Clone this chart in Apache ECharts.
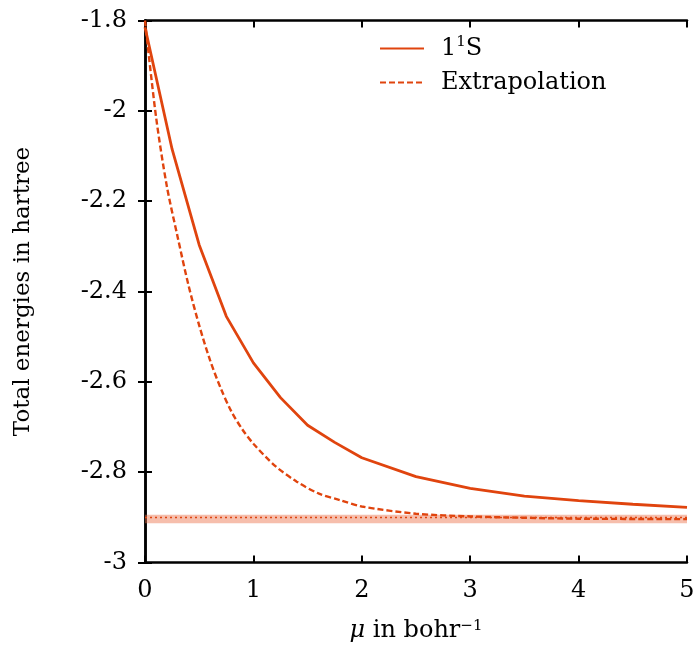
<!DOCTYPE html>
<html>
<head>
<meta charset="utf-8">
<script src="https://cdn.jsdelivr.net/npm/echarts@6/dist/echarts.min.js"></script>
<style>html,body{margin:0;padding:0;background:#fff}#c{width:699px;height:648px}</style>
</head>
<body>
<div id="c"></div>
<script>
const muState = [0, 0.25, 0.5, 0.75, 1, 1.25, 1.5, 1.75, 2, 2.5, 3, 3.5, 4, 4.5, 5];
const energyState = [-1.815, -2.085, -2.297, -2.455, -2.558, -2.635, -2.696, -2.734, -2.768, -2.810, -2.836, -2.853, -2.863, -2.871, -2.878];
const muExtrap = [0, 0.1, 0.2, 0.3, 0.4, 0.5, 0.6, 0.7, 0.8, 0.9, 1.0, 1.2, 1.4, 1.6, 1.8, 2.0, 2.5, 3.0, 3.5, 4.0, 5.0];
const energyExtrap = [-1.80, -2.01, -2.165, -2.278, -2.385, -2.475, -2.552, -2.615, -2.667, -2.706, -2.737, -2.786, -2.821, -2.847, -2.862, -2.876, -2.892, -2.898, -2.901, -2.903, -2.904];
const exactEnergy = -2.9037;
const bandHalf = 0.0095;
const xTicks = [0, 1, 2, 3, 4, 5];
const yTicks = [-3, -2.8, -2.6, -2.4, -2.2, -2, -1.8];

const C = '#e0440e';
const FONT = 'DejaVu Serif';
const chart = echarts.init(document.getElementById('c'));
const axisLine = {show: true, lineStyle: {color: '#000', width: 2.5}};
const tick = {show: true, inside: true, length: 7, lineStyle: {color: '#000', width: 2}};
chart.setOption({
  animation: false,
  grid: {left: 145, right: 12, top: 20.5, bottom: 84.5},
  legend: {
    left: 374, top: 30, orient: 'vertical', itemWidth: 44, itemHeight: 14, itemGap: 10,
    itemStyle: {opacity: 0},
    textStyle: {fontFamily: FONT, fontSize: 24, color: '#000', padding: [0, 0, 0, 12],
      rich: {n: {fontFamily: FONT, fontSize: 24, color: '#000'},
             s: {fontFamily: FONT, fontSize: 15, color: '#000', verticalAlign: 'top', padding: [0, 0, 12, 0]}}},
    formatter: function (name) { return name === '1S' ? '{n|1}{s|1}{n|S}' : '{n|' + name + '}'; },
    data: ['1S', 'Extrapolation']
  },
  xAxis: [{
    type: 'value', min: xTicks[0], max: xTicks[xTicks.length - 1], interval: 1,
    axisLine: axisLine, axisTick: tick, splitLine: {show: false},
    axisLabel: {fontFamily: FONT, fontSize: 24, color: '#000', margin: 16},
    name: '{i|μ} in bohr{s|−1}', nameLocation: 'middle', nameGap: 56,
    nameTextStyle: {fontFamily: FONT, fontSize: 24, color: '#000',
      rich: {i: {fontFamily: FONT, fontSize: 24, fontStyle: 'italic', color: '#000'},
             s: {fontFamily: FONT, fontSize: 15, color: '#000', verticalAlign: 'top', padding: [0, 0, 10, 0]}}}
  }, {
    type: 'value', position: 'top', min: xTicks[0], max: xTicks[xTicks.length - 1], interval: 1,
    axisLine: axisLine, axisTick: tick, axisLabel: {show: false}, splitLine: {show: false}
  }],
  yAxis: [{
    type: 'value', min: yTicks[0], max: yTicks[yTicks.length - 1], interval: 0.2,
    axisLine: axisLine, axisTick: tick, splitLine: {show: false},
    axisLabel: {fontFamily: FONT, fontSize: 24, color: '#000', margin: 18,
      formatter: function (v) { return String(Math.round(v * 10) / 10); }},
    name: 'Total energies in hartree', nameLocation: 'middle', nameGap: 110,
    nameTextStyle: {fontFamily: FONT, fontSize: 23, color: '#000'}
  }, {
    type: 'value', position: 'right', min: yTicks[0], max: yTicks[yTicks.length - 1], interval: 0.2,
    axisLine: axisLine, axisTick: tick, axisLabel: {show: false}, splitLine: {show: false}
  }],
  series: [{
    name: 'band', type: 'line', data: [], silent: true,
    markArea: {silent: true, itemStyle: {color: 'rgba(234,110,70,0.45)'},
      data: [[{yAxis: exactEnergy - bandHalf}, {yAxis: exactEnergy + bandHalf}]]},
    markLine: {silent: true, symbol: 'none', label: {show: false},
      lineStyle: {color: C, type: [2, 3], width: 1.3},
      data: [{yAxis: exactEnergy}]}
  }, {
    name: '1S', type: 'line', symbol: 'none', z: 5,
    lineStyle: {color: C, width: 2.8}, itemStyle: {color: C},
    data: muState.map((m, i) => [m, energyState[i]])
  }, {
    name: 'Extrapolation', type: 'line', symbol: 'none', smooth: 0.3, z: 4,
    lineStyle: {color: C, width: 2.4, type: [6, 3]}, itemStyle: {color: C},
    data: muExtrap.map((m, i) => [m, energyExtrap[i]])
  }]
});
</script>
</body>
</html>
